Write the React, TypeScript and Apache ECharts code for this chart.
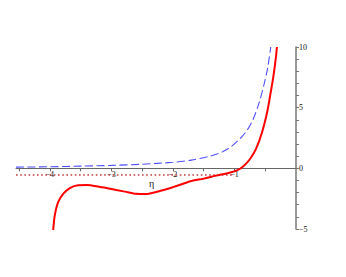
import React, { useEffect, useRef } from "react";
import * as echarts from "echarts";

const redEta = [-3.946, -3.92, -3.865, -3.78, -3.675, -3.54, -3.4, -3.2, -3.0, -2.8, -2.6, -2.45, -2.2, -2.0, -1.7, -1.5, -1.3, -1.1, -0.95, -0.85, -0.75, -0.65, -0.55, -0.47, -0.42, -0.37, -0.33, -0.31];
const redVal = [-5.12, -3.88, -2.78, -2.09, -1.63, -1.4, -1.38, -1.52, -1.7, -1.9, -2.1, -2.12, -1.85, -1.55, -1.05, -0.85, -0.6, -0.38, -0.15, 0.2, 0.75, 1.6, 3.0, 4.6, 6.0, 7.5, 9.0, 10];

const blueEta = [-4.55, -4.0, -3.5, -3.0, -2.5, -2.0, -1.7, -1.4, -1.2, -1.05, -0.9, -0.8, -0.7, -0.6, -0.52, -0.46, -0.41];
const blueVal = [0.1, 0.13, 0.18, 0.24, 0.34, 0.5, 0.68, 1.0, 1.35, 1.8, 2.5, 3.1, 4.0, 5.4, 6.9, 8.3, 10];

const dotEta = [-4.55, -1.0];
const dotVal = [-0.55, -0.55];

const xTicks = [-4.5, -4, -3.5, -3, -2.5, -2, -1.5, -1, -0.5];
const xLabels = [-4, -3, -2, -1];
const yLabels = [-5, 0, 5, 10];
const xName = "η";

const pair = (a: number[], b: number[]) => a.map((v, i) => [v, b[i]]);

export default function App() {
  const ref = useRef<HTMLDivElement>(null);
  useEffect(() => {
    if (!ref.current) return;
    document.body.style.margin = "0";
    const chart = echarts.init(ref.current, null, { renderer: "svg" });
    const font = "Liberation Serif";
    const top = 47;
    const bottom = 48;
    const plotH = 277 - top - bottom;
    const zeroOffset = -(plotH * 5) / 15;
    chart.setOption({
      animation: false,
      grid: { left: 16, right: 50, top, bottom, containLabel: false },
      graphic: [
        {
          type: "text",
          left: 149,
          top: 178,
          style: { text: xName, font: `10px "${font}"`, fill: "#111" },
        },
      ],
      xAxis: {
        type: "value",
        min: -4.55,
        max: 0,
        offset: zeroOffset,
        axisLine: { onZero: false, lineStyle: { color: "#666", width: 1 } },
        axisTick: { show: true, customValues: xTicks, length: 3, lineStyle: { color: "#666" } },
        axisLabel: {
          customValues: xLabels,
          fontFamily: font,
          fontSize: 8,
          color: "#111",
          margin: 2,
          formatter: (v: number) => (v < 0 ? "−" + Math.abs(v) : String(v)),
        },
        splitLine: { show: false },
      },
      yAxis: {
        type: "value",
        min: -5,
        max: 10,
        interval: 1,
        position: "right",
        axisLine: { show: true, onZero: false, lineStyle: { color: "#777", width: 1.5 } },
        axisTick: { show: true, length: 3, lineStyle: { color: "#777" } },
        axisLabel: {
          customValues: yLabels,
          fontFamily: font,
          fontSize: 8,
          color: "#111",
          margin: 3,
          formatter: (v: number) => (v < 0 ? "−" + Math.abs(v) : String(v)),
        },
        splitLine: { show: false },
      },
      series: [
        {
          type: "line",
          data: pair(dotEta, dotVal),
          showSymbol: false,
          lineStyle: { color: "#c83c3c", width: 1.6, type: [1.6, 2.6] },
        },
        {
          type: "line",
          data: pair(blueEta, blueVal),
          showSymbol: false,
          smooth: 0.3,
          lineStyle: { color: "#5050ff", width: 1.1, type: [8, 3.5] },
        },
        {
          type: "line",
          data: pair(redEta, redVal),
          showSymbol: false,
          smooth: 0.3,
          lineStyle: { color: "#ff0000", width: 2 },
        },
      ],
    });
    return () => chart.dispose();
  }, []);
  return <div ref={ref} style={{ width: 346, height: 277 }} />;
}
